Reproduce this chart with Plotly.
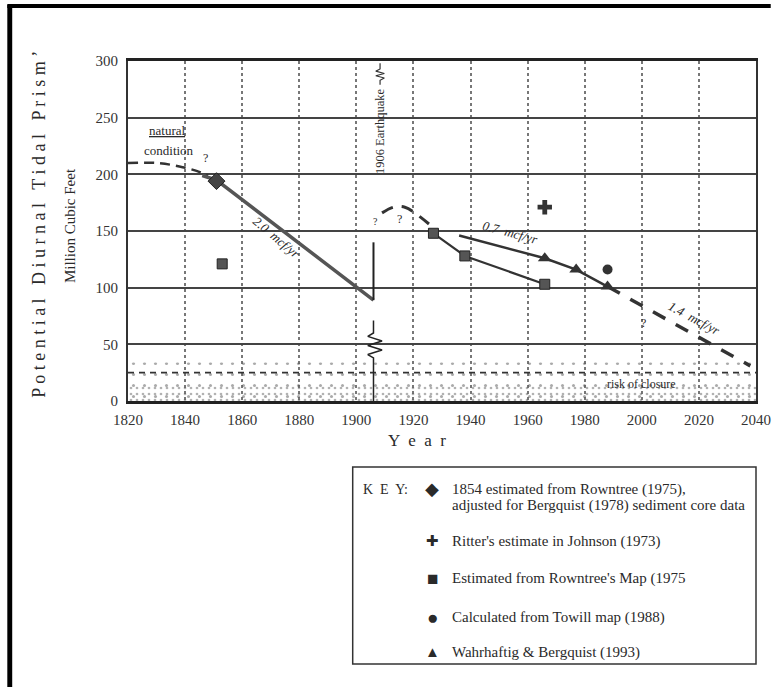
import plotly.graph_objects as go

# ---------------- data ----------------
diamond_year = [1851]
diamond_val = [194]
cross_year = [1966]
cross_val = [171]
square_years = [1853, 1927, 1938, 1966]
square_vals = [121, 148, 128, 103]
circle_year = [1988]
circle_val = [116]
tri_years = [1966, 1977, 1988]
tri_vals = [126, 116, 101]

natural_years = [1820, 1830, 1838, 1844, 1848]
natural_vals = [210, 210, 207, 203, 199]
trend20_years = [1846, 1851, 1906]
trend20_vals = [199, 195, 89]
post_eq_years = [1909, 1913, 1917, 1921, 1926]
post_eq_vals = [166, 171, 171, 165, 155]
square_line_years = [1927, 1938, 1966]
square_line_vals = [148, 128, 103]
trend07_years = [1936, 1966, 1977, 1988]
trend07_vals = [146, 126, 116, 101]
trend14_years = [1988, 2038]
trend14_vals = [101, 31]

closure_level = 25
stipple_sparse_top = 34
stipple_dense_top = 13

eq_year = 1906
eq_upper_vals = [89, 140]
eq_lower_years = [1906, 1906, 1904, 1909, 1904, 1909, 1904, 1906, 1906]
eq_lower_vals = [71, 60, 57, 53, 49, 45, 41, 38, 0]
eq_symbol_years = [1908.3, 1908.3, 1906.8, 1909.8, 1906.8, 1909.8, 1908.3, 1908.3]
eq_symbol_vals = [298, 293, 291, 289, 287, 285, 283, 279]

x_ticks = [1820, 1840, 1860, 1880, 1900, 1920, 1940, 1960, 1980, 2000, 2020, 2040]
y_ticks = [0, 50, 100, 150, 200, 250, 300]

legend_rows = [
    ("◆", "1854 estimated from Rowntree (1975),"),
    ("✚", "Ritter's estimate in Johnson (1973)"),
    ("■", "Estimated from Rowntree's Map (1975"),
    ("●", "Calculated from Towill map (1988)"),
    ("▲", "Wahrhaftig & Bergquist (1993)"),
]
legend_row2 = "adjusted for Bergquist (1978) sediment core data"

# ---------------- layout helpers ----------------
W, H = 783, 687
L, R, T, B = 128, 768, 61, 401
SERIF = "Liberation Serif"
INK = "#2a2a2a"


def px(p):
    return (p - L) / (R - L)


def py(p):
    return (B - p) / (B - T)


fig = go.Figure()

# stipple (sediment) texture
fig.add_trace(go.Scatter(x=[1820, 2040], y=[stipple_sparse_top] * 2, mode="lines",
                         line=dict(width=0), fill="tozeroy", fillcolor="rgba(0,0,0,0)",
                         fillpattern=dict(shape=".", size=11, solidity=0.06, fgcolor="#555"),
                         hoverinfo="skip", showlegend=False))
fig.add_trace(go.Scatter(x=[1820, 2040], y=[stipple_dense_top] * 2, mode="lines",
                         line=dict(width=0), fill="tozeroy", fillcolor="rgba(0,0,0,0)",
                         fillpattern=dict(shape=".", size=6, solidity=0.16, fgcolor="#666"),
                         hoverinfo="skip", showlegend=False))

# risk of closure level
fig.add_trace(go.Scatter(x=[1820, 2040], y=[closure_level] * 2, mode="lines",
                         line=dict(color="#333", width=1.8, dash="6px,5px"),
                         hoverinfo="skip", showlegend=False))

# natural condition
fig.add_trace(go.Scatter(x=natural_years, y=natural_vals, mode="lines",
                         line=dict(color="#333", width=2.5, dash="10px,6px", shape="spline"),
                         showlegend=False))
# 2.0 mcf/yr decline
fig.add_trace(go.Scatter(x=trend20_years, y=trend20_vals, mode="lines",
                         line=dict(color="#555", width=3.5), showlegend=False))
# earthquake
fig.add_trace(go.Scatter(x=[eq_year, eq_year], y=eq_upper_vals, mode="lines",
                         line=dict(color="#222", width=2), showlegend=False))
fig.add_trace(go.Scatter(x=eq_lower_years, y=eq_lower_vals, mode="lines",
                         line=dict(color="#222", width=1.5), showlegend=False))
fig.add_trace(go.Scatter(x=eq_symbol_years, y=eq_symbol_vals, mode="lines",
                         line=dict(color="#333", width=1.2), showlegend=False))
# post-earthquake recovery
fig.add_trace(go.Scatter(x=post_eq_years, y=post_eq_vals, mode="lines",
                         line=dict(color="#333", width=3, dash="12px,9px", shape="spline"),
                         showlegend=False))
# square line
fig.add_trace(go.Scatter(x=square_line_years, y=square_line_vals, mode="lines",
                         line=dict(color="#333", width=2.2), showlegend=False))
# 0.7 mcf/yr
fig.add_trace(go.Scatter(x=trend07_years, y=trend07_vals, mode="lines",
                         line=dict(color="#333", width=2.5), showlegend=False))
# 1.4 mcf/yr projection
fig.add_trace(go.Scatter(x=trend14_years, y=trend14_vals, mode="lines",
                         line=dict(color="#333", width=3.5, dash="14px,12px"),
                         showlegend=False))

# markers
fig.add_trace(go.Scatter(x=diamond_year, y=diamond_val, mode="markers",
                         marker=dict(symbol="diamond", size=13, color="#444",
                                     line=dict(color="#222", width=1)), showlegend=False))
fig.add_trace(go.Scatter(x=cross_year, y=cross_val, mode="markers",
                         marker=dict(symbol="cross", size=12, color="#333",
                                     line=dict(width=0)), showlegend=False))
fig.add_trace(go.Scatter(x=square_years, y=square_vals, mode="markers",
                         marker=dict(symbol="square", size=10, color="#555",
                                     line=dict(color="#222", width=1)), showlegend=False))
fig.add_trace(go.Scatter(x=circle_year, y=circle_val, mode="markers",
                         marker=dict(symbol="circle", size=10, color="#333"), showlegend=False))
fig.add_trace(go.Scatter(x=tri_years, y=tri_vals, mode="markers",
                         marker=dict(symbol="triangle-up", size=12, color="#333"),
                         showlegend=False))

ann = []


def text(x, y, s, size=13, angle=0, xref="x", yref="y", xanchor="center", **kw):
    ann.append(dict(x=x, y=y, xref=xref, yref=yref, text=s, showarrow=False,
                    textangle=angle, xanchor=xanchor, yanchor="middle",
                    font=dict(family=SERIF, size=size, color=INK), **kw))


# in-plot labels
text(1833.5, 239, "<u>natural</u>", 13)
text(1834.5, 221, "condition", 13)
text(1847, 214, "?", 12)
text(1872, 144, "<i>2.0  mcf/yr</i>", 13, angle=40)
text(1906.6, 158, "?", 10)
text(1908.2, 238, "1906 Earthquake", 12.5, angle=-90)
text(1915, 161, "?", 12)
text(1954, 149, "<i>0.7  mcf/yr</i>", 13, angle=15)
text(2000.5, 69, "?", 12)
text(2018.5, 73, "<i>1.4  mcf/yr</i>", 13, angle=28)
text(2000, 15, "risk of closure", 12)

# axis titles
text(px(37), py(224), "P o t e n t i a l   D i u r n a l   T i d a l   P r i s m ’", 18,
     angle=-90, xref="paper", yref="paper")
text(px(69), py(226), "Million Cubic Feet", 15, angle=-90, xref="paper", yref="paper")
text(px(423), py(440), "Y  e  a  r", 17, xref="paper", yref="paper")

# legend
text(px(365), py(489), "K  E  Y:", 14, xref="paper", yref="paper", xanchor="left")
row_y = [489, 541, 578, 617, 652]
sym_size = {"◆": 18, "✚": 15, "■": 19, "●": 19, "▲": 15}
for (sym, label), yy in zip(legend_rows, row_y):
    text(px(438), py(yy), sym, sym_size[sym], xref="paper", yref="paper")
    text(px(456), py(yy), label, 15, xref="paper", yref="paper", xanchor="left")
text(px(456), py(505), legend_row2, 15, xref="paper", yref="paper", xanchor="left")

shapes = [
    dict(type="rect", xref="paper", yref="paper", x0=px(357), x1=px(768), y0=py(664), y1=py(467),
         line=dict(color="#333", width=1.5)),
    # scan frame
    dict(type="rect", xref="paper", yref="paper", x0=px(5), x1=px(10), y0=py(687), y1=py(5),
         line=dict(width=0), fillcolor="black"),
    dict(type="rect", xref="paper", yref="paper", x0=px(5), x1=px(783), y0=py(8), y1=py(4),
         line=dict(width=0), fillcolor="black"),
]

fig.update_layout(
    width=W, height=H,
    margin=dict(l=L, r=W - R, t=T, b=H - B),
    paper_bgcolor="white", plot_bgcolor="white",
    annotations=ann, shapes=shapes,
    showlegend=False,
    xaxis=dict(range=[1820, 2040], tickvals=x_ticks, ticks="", showgrid=True,
               gridcolor="#777", griddash="dot", gridwidth=1.5, zeroline=False,
               showline=True, linecolor="#222", linewidth=2.5, mirror=True,
               tickfont=dict(family=SERIF, size=15, color="#333"), ticklabelstandoff=3),
    yaxis=dict(range=[0, 300], tickvals=y_ticks, ticks="", showgrid=True,
               gridcolor="#444", gridwidth=2, zeroline=False,
               showline=True, linecolor="#333", linewidth=2, mirror=True,
               tickfont=dict(family=SERIF, size=15, color="#333"), ticklabelstandoff=5),
)

fig.write_html("out.html", config={"displayModeBar": False},
               post_script="document.body.style.margin='0px';document.body.style.overflow='hidden';")
